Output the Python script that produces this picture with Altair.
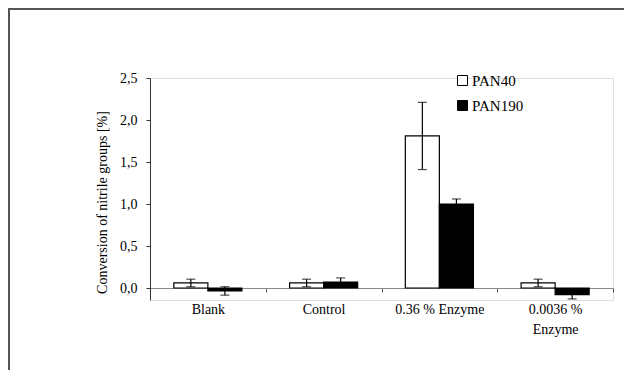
import altair as alt
import pandas as pd

categories = ["Blank", "Control", "0.36 % Enzyme", "0.0036 %|Enzyme"]
series = ["PAN40", "PAN190"]
pan40 = [0.06, 0.06, 1.81, 0.06]
pan40_err = [0.045, 0.045, 0.40, 0.045]
pan190 = [-0.035, 0.07, 1.00, -0.08]
pan190_err = [0.05, 0.05, 0.06, 0.05]
y_ticks = [0, 0.5, 1.0, 1.5, 2.0, 2.5]

rows = []
for i, c in enumerate(categories):
    rows.append({"cat": c, "series": "PAN40", "val": pan40[i],
                 "lo": pan40[i] - pan40_err[i], "hi": pan40[i] + pan40_err[i]})
    rows.append({"cat": c, "series": "PAN190", "val": pan190[i],
                 "lo": pan190[i] - pan190_err[i], "hi": pan190[i] + pan190_err[i]})
df = pd.DataFrame(rows)

FONT = "Liberation Serif, Times New Roman, serif"

x_axis = alt.Axis(
    title=None, labelAngle=0, offset=-12, tickBand="extent", tickSize=4,
    labelPadding=10, domainColor="#8a8a8a", tickColor="#555",
    labelExpr="split(datum.label, '|')", labelLineHeight=20,
    labelFont=FONT, labelFontSize=14, labelColor="black",
)
x_enc = alt.X("cat:N", sort=categories,
              scale=alt.Scale(paddingInner=0, paddingOuter=0), axis=x_axis)
x_plain = alt.X("cat:N", sort=categories)
xo = alt.XOffset("series:N", sort=series,
                 scale=alt.Scale(paddingInner=0, paddingOuter=0.7))

y_scale = alt.Scale(domain=[-2.5 * 12 / 210, 2.5], nice=False, zero=False)
y_axis = alt.Axis(
    values=y_ticks, grid=False,
    labelExpr="replace(format(datum.value, '.1f'), '.', ',')",
    domainColor="#333", tickColor="#333", tickSize=4, labelPadding=9,
    labelFont=FONT, labelFontSize=14, labelColor="black",
    title="Conversion of nitrile groups [%]", titleFont=FONT, titleFontSize=14,
    titleFontWeight="normal", titleColor="black", titlePadding=10,
    titleY=124,
)

base = alt.Chart(df)

bars = base.mark_bar(stroke="black", strokeWidth=1.2).encode(
    x=x_enc, xOffset=xo,
    y=alt.Y("val:Q", scale=y_scale, axis=y_axis),
    color=alt.Color(
        "series:N", sort=series,
        scale=alt.Scale(domain=series, range=["white", "black"]),
        legend=alt.Legend(
            title=None, orient="none", legendX=305, legendY=-5,
            symbolType="square", symbolSize=100, symbolStrokeColor="black",
            symbolStrokeWidth=1, labelFont=FONT, labelFontSize=15,
            labelColor="black", labelOffset=2, rowPadding=9,
        ),
    ),
)

err = base.mark_rule(color="black", strokeWidth=1.2).encode(
    x=x_plain, xOffset=alt.XOffset("series:N", sort=series),
    y=alt.Y("lo:Q"), y2="hi:Q",
)
cap_lo = base.mark_tick(color="black", thickness=1.2, size=9).encode(
    x=x_plain, xOffset=alt.XOffset("series:N", sort=series), y=alt.Y("lo:Q"),
)
cap_hi = base.mark_tick(color="black", thickness=1.2, size=9).encode(
    x=x_plain, xOffset=alt.XOffset("series:N", sort=series), y=alt.Y("hi:Q"),
)

frame_df = pd.DataFrame({"a": [0]})
frame_left = alt.Chart(frame_df).mark_rule(color="#555", strokeWidth=2).encode(
    x=alt.value(-141), y=alt.value(-70), y2=alt.value(292),
)
frame_top = alt.Chart(frame_df).mark_rule(color="#555", strokeWidth=2).encode(
    x=alt.value(-142), x2=alt.value(482), y=alt.value(-69),
)

chart = alt.layer(bars, err, cap_lo, cap_hi, frame_left, frame_top).properties(
    width=463, height=222,
    autosize=alt.AutoSizeParams(type="none"),
    padding={"left": 142, "top": 70, "right": 11, "bottom": 70},
    background="white",
).configure_view(stroke=None).configure(font=FONT)

chart.save("out.html", embed_options={"renderer": "svg", "actions": False})
